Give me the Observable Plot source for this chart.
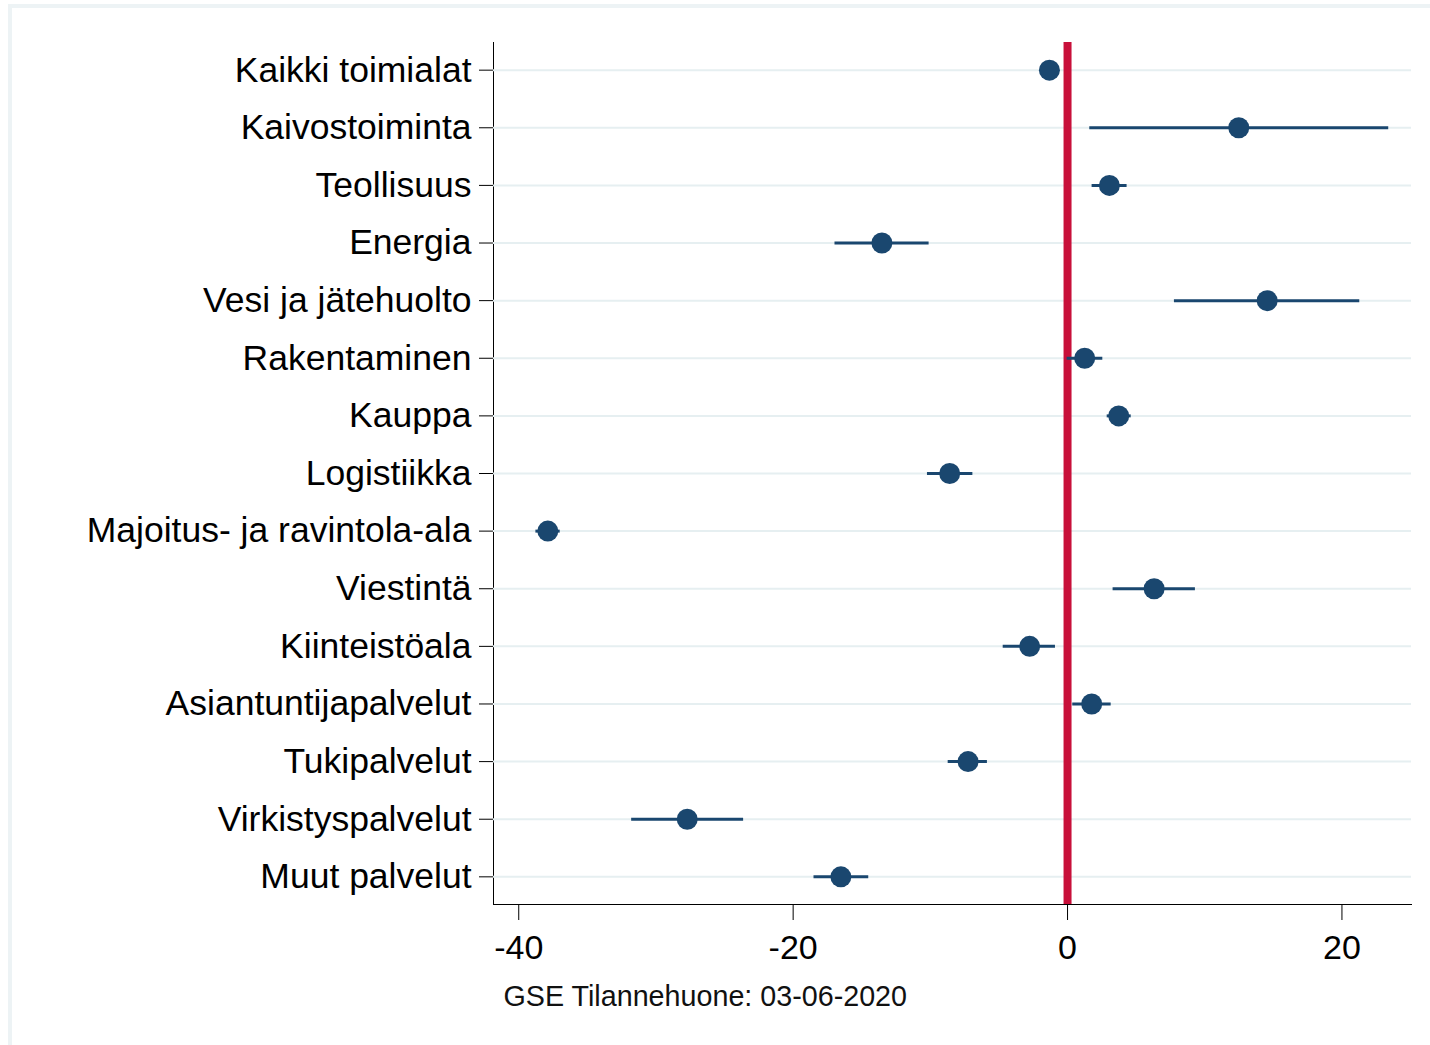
<!DOCTYPE html>
<html>
<head>
<meta charset="utf-8">
<script src="https://cdn.jsdelivr.net/npm/d3@7"></script>
<script src="https://cdn.jsdelivr.net/npm/@observablehq/plot@0.6"></script>
<style>
  html, body { margin: 0; padding: 0; background: #fff; }
  #wrap { position: relative; width: 1430px; height: 1045px; overflow: hidden; background: #fff; }
  #frame { position: absolute; left: 8px; top: 4px; width: 1440px; height: 1100px;
           border-left: 4px solid #edf3f5; border-top: 4px solid #edf3f5; }
  #chart { position: absolute; left: 0; top: 0; }
  #chart svg g[aria-label="y-axis tick label"] { font-size: 35.5px; }
  #chart svg g[aria-label="x-axis tick label"] { font-size: 34px; }
</style>
</head>
<body>
<div id="wrap"><div id="frame"></div><div id="chart"></div></div>
<script>
const categories = [
  "Kaikki toimialat", "Kaivostoiminta", "Teollisuus", "Energia", "Vesi ja jätehuolto",
  "Rakentaminen", "Kauppa", "Logistiikka", "Majoitus- ja ravintola-ala", "Viestintä",
  "Kiinteistöala", "Asiantuntijapalvelut", "Tukipalvelut", "Virkistyspalvelut", "Muut palvelut"
];
const estimates = [-1.32, 12.48, 3.05, -13.53, 14.55, 1.25, 3.73, -8.59, -37.88, 6.31, -2.76, 1.76, -7.25, -27.72, -16.52];
const ciLow     = [-1.6, 1.62, 1.79, -16.95, 7.79, -0.03, 2.89, -10.21, -38.75, 3.32, -4.69, 0.38, -8.7, -31.77, -18.48];
const ciHigh    = [-1.0, 23.41, 4.34, -10.09, 21.3, 2.57, 4.64, -6.9, -36.98, 9.32, -0.88, 3.18, -5.84, -23.61, -14.49];
const xTicks = [-40, -20, 0, 20];
const xDomain = [-41.84, 25.07];
const referenceLine = [0];
const caption = "GSE Tilannehuone: 03-06-2020";

const navy = "#1a476f";
const red = "#c8103a";

const rows = categories.map((c, i) => ({cat: c, est: estimates[i], lo: ciLow[i], hi: ciHigh[i]}));

const chart = Plot.plot({
  width: 1430,
  height: 1045,
  marginLeft: 493,
  marginRight: 19,
  marginTop: 42,
  marginBottom: 141,
  style: {fontFamily: "'Liberation Sans', Arial, sans-serif", background: "transparent", color: "#000", overflow: "visible"},
  x: {domain: xDomain, ticks: xTicks, tickFormat: d => String(d), tickSize: 16, tickPadding: 14, label: null, line: true},
  y: {type: "point", domain: categories, padding: 0.48, round: false, label: null, tickSize: 14, tickPadding: 8, line: true},
  marks: [
    Plot.gridY({stroke: "#e6eff1", strokeOpacity: 1, strokeWidth: 2}),
    Plot.ruleX(referenceLine, {stroke: red, strokeWidth: 8}),
    Plot.ruleY(rows, {y: "cat", x1: "lo", x2: "hi", stroke: navy, strokeWidth: 3}),
    Plot.dot(rows, {x: "est", y: "cat", r: 10.5, fill: navy}),
    Plot.text([caption], {frameAnchor: "bottom-left", dx: 10, dy: 101, textAnchor: "start", lineAnchor: "bottom", fontSize: 28.7, fill: "#111"})
  ]
});
document.getElementById("chart").appendChild(chart);
</script>
</body>
</html>
